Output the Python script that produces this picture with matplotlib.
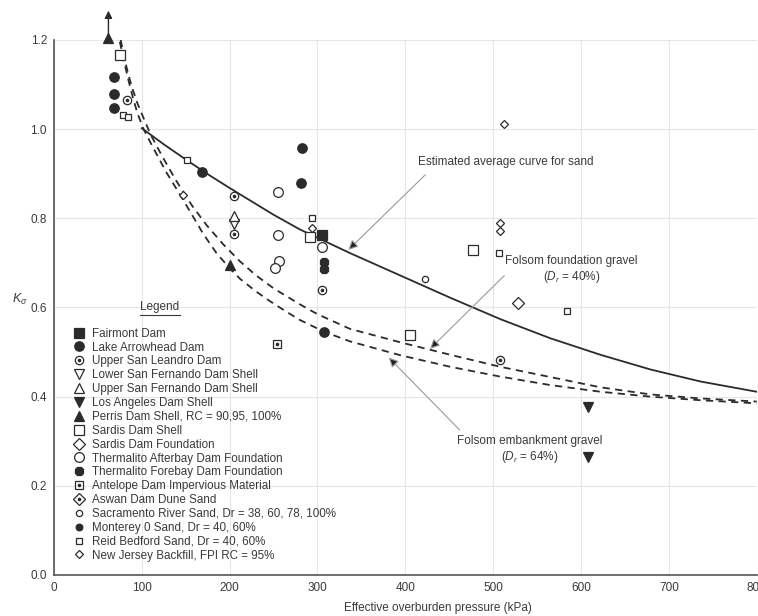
import matplotlib
matplotlib.use('Agg')
import matplotlib.pyplot as plt
from matplotlib.lines import Line2D

plt.rcParams['font.family'] = ['Liberation Sans', 'DejaVu Sans']
plt.rcParams['mathtext.fontset'] = 'custom'
plt.rcParams['mathtext.rm'] = 'Liberation Sans'
plt.rcParams['mathtext.it'] = 'Liberation Sans:italic'

# --- data (kPa, K_sigma) ---
fairmont_x = [305]
fairmont_y = [0.763]
arrowhead_x = [68.7, 68.7, 68.7, 168, 282, 281.3, 308]
arrowhead_y = [1.116, 1.079, 1.047, 0.903, 0.957, 0.880, 0.546]
leandro_x = [82.8, 205.4, 205.4, 305, 508]
leandro_y = [1.066, 0.850, 0.765, 0.639, 0.482]
lower_sf_x = [205.4]
lower_sf_y = [0.787]
upper_sf_x = [205.4]
upper_sf_y = [0.806]
la_x = [607.8, 607.8]
la_y = [0.377, 0.265]
perris_x = [62, 200.5]
perris_y = [1.205, 0.695]
sardis_shell_x = [75.2, 291.6, 405.5, 477.6]
sardis_shell_y = [1.166, 0.759, 0.538, 0.730]
sardis_fdn_x = [528]
sardis_fdn_y = [0.611]
afterbay_x = [254.7, 254.7, 256.3, 251.7, 305]
afterbay_y = [0.860, 0.763, 0.705, 0.688, 0.735]
forebay_x = [307.5, 307.5]
forebay_y = [0.703, 0.686]
antelope_x = [253.6]
antelope_y = [0.518]
aswan_x = []
aswan_y = []
sacramento_x = [422.6]
sacramento_y = [0.663]
monterey_x = []
monterey_y = []
reid_x = [78.2, 83.9, 151, 294, 506.8, 584]
reid_y = [1.032, 1.027, 0.931, 0.801, 0.722, 0.591]
nj_x = [146.5, 293.5, 512.5, 508, 508]
nj_y = [0.852, 0.778, 1.011, 0.789, 0.772]

# curves
sand_x = [100, 125, 150, 175, 200, 225, 250, 280, 337, 394, 451, 508, 565, 622, 679, 736, 800]
sand_y = [1.002, 0.966, 0.932, 0.899, 0.868, 0.838, 0.808, 0.775, 0.722, 0.672, 0.622, 0.574, 0.531, 0.494, 0.461, 0.434, 0.411]
fdn_x = [76, 80, 85, 90, 95, 102, 110, 123, 138, 157, 174, 193, 212, 230, 250, 280, 300, 337, 394, 451, 508, 565, 622, 679, 736, 800]
fdn_y = [1.2, 1.16, 1.12, 1.087, 1.058, 1.025, 0.988, 0.94, 0.888, 0.829, 0.784, 0.741, 0.703, 0.672, 0.643, 0.607, 0.585, 0.552, 0.522, 0.494, 0.467, 0.444, 0.421, 0.405, 0.396, 0.389]
emb_x = [75, 80, 85, 90, 95, 102, 113, 128, 142, 155, 170, 185, 200, 212, 230, 246, 265, 280, 307, 337, 394, 451, 508, 565, 622, 679, 736, 800]
emb_y = [1.196, 1.15, 1.108, 1.07, 1.036, 1.0, 0.958, 0.903, 0.858, 0.815, 0.765, 0.722, 0.688, 0.664, 0.636, 0.614, 0.59, 0.572, 0.546, 0.524, 0.493, 0.467, 0.445, 0.426, 0.411, 0.400, 0.392, 0.385]

ink = '#2b2b2b'
txt = '#3a3a3a'

fig = plt.figure(figsize=(7.58, 6.16), dpi=100)
ax = fig.add_axes([0.0712, 0.0666, 0.927, 0.8685])

ax.plot(sand_x, sand_y, color=ink, lw=1.3, zorder=2)
ax.plot(fdn_x, fdn_y, color=ink, lw=1.3, ls=(0, (4, 3)), zorder=2)
ax.plot(emb_x, emb_y, color=ink, lw=1.3, ls=(0, (4, 3)), zorder=2)


def pts(x, y, marker, ms, filled=True, dot=False):
    fc = ink if filled else 'white'
    h = ax.plot(x, y, ls='none', marker=marker, ms=ms, mfc=fc, mec=ink, mew=0.9,
                zorder=3, clip_on=False)[0]
    if dot:
        d = ax.plot(x, y, ls='none', marker='o', ms=1.6, mfc=ink, mec=ink, zorder=4)[0]
        return (h, d)
    return h


handles = [
    pts(fairmont_x, fairmont_y, 's', 6.5),
    pts(arrowhead_x, arrowhead_y, 'o', 6.8),
    pts(leandro_x, leandro_y, 'o', 6.0, filled=False, dot=True),
    pts(lower_sf_x, lower_sf_y, 'v', 6.5, filled=False),
    pts(upper_sf_x, upper_sf_y, '^', 6.5, filled=False),
    pts(la_x, la_y, 'v', 6.5),
    pts(perris_x, perris_y, '^', 6.8),
    pts(sardis_shell_x, sardis_shell_y, 's', 7.0, filled=False),
    pts(sardis_fdn_x, sardis_fdn_y, 'D', 6.2, filled=False),
    pts(afterbay_x, afterbay_y, 'o', 7.0, filled=False),
    pts(forebay_x, forebay_y, '8', 7.0),
    pts(antelope_x, antelope_y, 's', 5.5, filled=False, dot=True),
    pts(aswan_x, aswan_y, 'D', 6.0, filled=False, dot=True),
    pts(sacramento_x, sacramento_y, 'o', 4.5, filled=False),
    pts(monterey_x, monterey_y, 'o', 4.8),
    pts(reid_x, reid_y, 's', 4.3, filled=False),
    pts(nj_x, nj_y, 'D', 4.2, filled=False),
]
labels = [
    'Fairmont Dam',
    'Lake Arrowhead Dam',
    'Upper San Leandro Dam',
    'Lower San Fernando Dam Shell',
    'Upper San Fernando Dam Shell',
    'Los Angeles Dam Shell',
    'Perris Dam Shell, RC = 90,95, 100%',
    'Sardis Dam Shell',
    'Sardis Dam Foundation',
    'Thermalito Afterbay Dam Foundation',
    'Thermalito Forebay Dam Foundation',
    'Antelope Dam Impervious Material',
    'Aswan Dam Dune Sand',
    'Sacramento River Sand, Dr = 38, 60, 78, 100%',
    'Monterey 0 Sand, Dr = 40, 60%',
    'Reid Bedford Sand, Dr = 40, 60%',
    'New Jersey Backfill, FPI RC = 95%',
]

leg = ax.legend(handles, labels, loc='upper left', bbox_to_anchor=(0.097, 0.468),
                bbox_transform=fig.transFigure, frameon=False, fontsize=8.4,
                handlelength=1.0, handletextpad=0.55, labelspacing=0.16,
                borderpad=0, borderaxespad=0, labelcolor=txt)

fig.text(140 / 758, 1 - 307 / 616, 'Legend', fontsize=8.5, color=txt, va='center', ha='left')
fig.add_artist(Line2D([140 / 758, 180 / 758], [1 - 315 / 616] * 2, color=txt, lw=0.8))

# Perris point is off the top: arrow
ax.annotate('', xy=(62, 1.272), xytext=(62, 1.205), annotation_clip=False,
            arrowprops=dict(arrowstyle='-|>', color=ink, lw=1.0, mutation_scale=11))

arrow = dict(arrowstyle='-|>', edgecolor='#9a9a9a', facecolor='#222222', lw=0.8, mutation_scale=14)
ax.text(414, 0.926, 'Estimated average curve for sand', fontsize=8.5, color=txt, va='center', ha='left')
ax.annotate('', xy=(333, 0.725), xytext=(425, 0.902), arrowprops=arrow)
ax.text(589, 0.684, 'Folsom foundation gravel\n($D_r$ = 40%)', fontsize=8.5, color=txt,
        va='center', ha='center', linespacing=1.2)
ax.annotate('', xy=(426, 0.503), xytext=(515, 0.676), arrowprops=arrow)
ax.text(542, 0.281, 'Folsom embankment gravel\n($D_r$ = 64%)', fontsize=8.5, color=txt,
        va='center', ha='center', linespacing=1.2)
ax.annotate('', xy=(379, 0.492), xytext=(464, 0.321), arrowprops=arrow)

ax.set_xlim(0, 800)
ax.set_ylim(0, 1.2)
ax.set_xticks(range(0, 801, 100))
ax.set_yticks([0.0, 0.2, 0.4, 0.6, 0.8, 1.0, 1.2])
ax.set_yticklabels(['0.0', '0.2', '0.4', '0.6', '0.8', '1.0', '1.2'])
ax.tick_params(length=0, labelsize=8.5, labelcolor=txt, pad=5)
ax.grid(True, color='#e6e6e6', lw=0.8)
ax.set_axisbelow(True)
for s in ['top', 'right']:
    ax.spines[s].set_visible(False)
for s in ['left', 'bottom']:
    ax.spines[s].set_color('#555555')
    ax.spines[s].set_linewidth(1.2)

ax.set_xlabel('Effective overburden pressure (kPa)', fontsize=8.5, color=txt)
ax.xaxis.set_label_coords(0.546, -0.05)
ax.set_ylabel(r'$K_\sigma$', rotation=0, fontsize=9, color=txt)
ax.yaxis.set_label_coords(-0.048, 0.5)

fig.savefig('out.png', dpi=100)
